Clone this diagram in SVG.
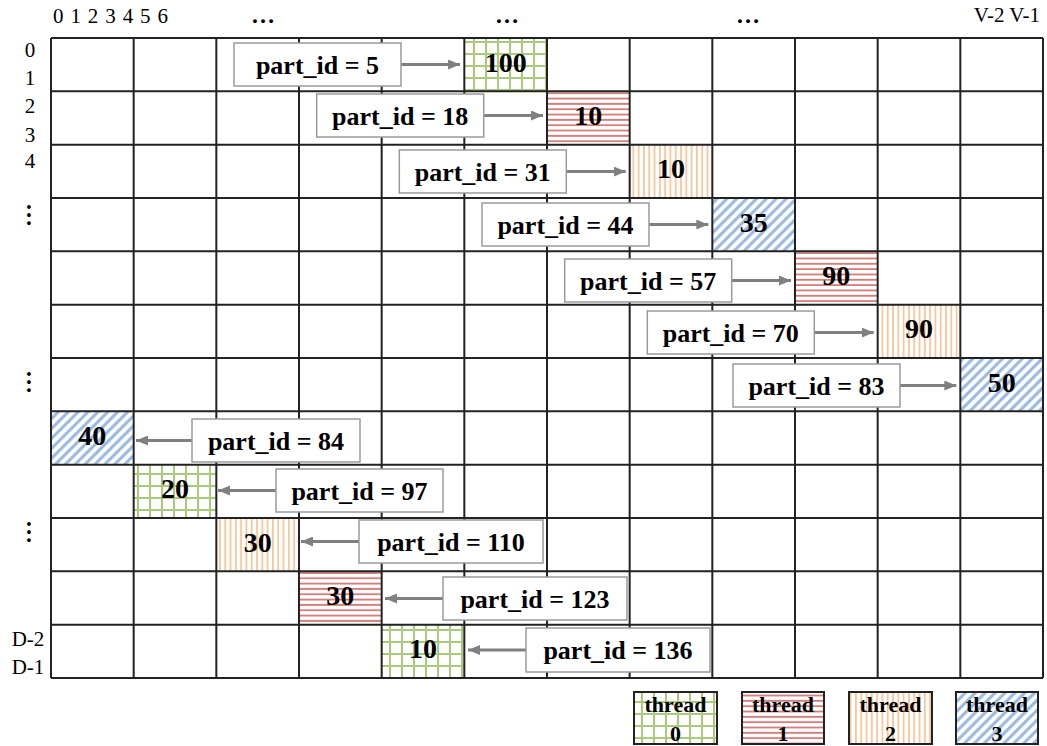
<svg xmlns="http://www.w3.org/2000/svg" width="1047" height="746" viewBox="0 0 1047 746">
<defs>
<style>
.ax{font-family:"Liberation Serif","Times New Roman",serif;font-size:21px;fill:#000}
.dots{font-family:"Liberation Serif","Times New Roman",serif;font-size:24px;font-weight:bold;fill:#000}
.lbl{font-family:"Liberation Serif","Times New Roman",serif;font-size:26px;font-weight:bold;fill:#000;text-anchor:middle}
.num{font-family:"Liberation Serif","Times New Roman",serif;font-size:28px;font-weight:bold;fill:#000;text-anchor:middle}
.leg{font-family:"Liberation Serif","Times New Roman",serif;font-size:22px;font-weight:bold;fill:#000;text-anchor:middle}
.box{fill:#fff;stroke:#9a9a9a;stroke-width:1.5}
.grid{stroke:#222;stroke-width:2;fill:none}
.arr{stroke:#808080;stroke-width:3;fill:none;marker-end:url(#ah)}
.legbox{stroke:#222;stroke-width:2}
</style>
<marker id="ah" markerUnits="userSpaceOnUse" markerWidth="12" markerHeight="10" refX="12" refY="5" orient="auto">
<path d="M0,0 L12,5 L0,10 Z" fill="#808080"/>
</marker>
<pattern id="pGreen" patternUnits="userSpaceOnUse" width="12" height="12">
<rect width="12" height="12" fill="#fff"/>
<path d="M6,0 V12 M0,6 H12" stroke="#a9c97c" stroke-width="2"/>
</pattern>
<pattern id="pRed" patternUnits="userSpaceOnUse" width="10" height="5.33">
<rect width="10" height="5.33" fill="#fff"/>
<path d="M0,2.6 H10" stroke="#d27f7d" stroke-width="1.9"/>
</pattern>
<pattern id="pOrange" patternUnits="userSpaceOnUse" width="5.3" height="10">
<rect width="5.3" height="10" fill="#fff"/>
<path d="M2.6,0 V10" stroke="#f9c59c" stroke-width="1.8"/>
</pattern>
<pattern id="pBlue" patternUnits="userSpaceOnUse" width="10" height="7" patternTransform="rotate(-45)">
<rect width="10" height="7" fill="#fff"/>
<path d="M0,3.5 H10" stroke="#9dbbe0" stroke-width="3.2"/>
</pattern>
</defs>

<g id="axis-labels">
<text class="ax" x="53" y="23" textLength="115" lengthAdjust="spacing">0 1 2 3 4 5 6</text>
<text class="dots" x="251" y="23">…</text>
<text class="dots" x="495" y="23">…</text>
<text class="dots" x="736" y="23">…</text>
<text class="ax" x="1040" y="22" text-anchor="end">V-2 V-1</text>
<text class="ax" x="30" y="57" text-anchor="middle">0</text>
<text class="ax" x="30" y="85" text-anchor="middle">1</text>
<text class="ax" x="30" y="113" text-anchor="middle">2</text>
<text class="ax" x="30" y="142" text-anchor="middle">3</text>
<text class="ax" x="30" y="168" text-anchor="middle">4</text>
<text class="dots" transform="translate(27,203) rotate(90)">…</text>
<text class="dots" transform="translate(27,370) rotate(90)">…</text>
<text class="dots" transform="translate(27,520) rotate(90)">…</text>
<text class="ax" x="28" y="646" text-anchor="middle">D-2</text>
<text class="ax" x="28" y="674" text-anchor="middle">D-1</text>
</g>

<g id="cells">
<rect x="464.33" y="38" width="82.67" height="53.33" fill="url(#pGreen)"/>
<rect x="547" y="91.33" width="82.67" height="53.33" fill="url(#pRed)"/>
<rect x="629.67" y="144.67" width="82.67" height="53.33" fill="url(#pOrange)"/>
<rect x="712.33" y="198" width="82.67" height="53.33" fill="url(#pBlue)"/>
<rect x="795" y="251.33" width="82.67" height="53.33" fill="url(#pRed)"/>
<rect x="877.67" y="304.67" width="82.67" height="53.33" fill="url(#pOrange)"/>
<rect x="960.33" y="358" width="82.67" height="53.33" fill="url(#pBlue)"/>
<rect x="51" y="411.33" width="82.67" height="53.33" fill="url(#pBlue)"/>
<rect x="133.67" y="464.67" width="82.67" height="53.33" fill="url(#pGreen)"/>
<rect x="216.33" y="518" width="82.67" height="53.33" fill="url(#pOrange)"/>
<rect x="299" y="571.33" width="82.67" height="53.33" fill="url(#pRed)"/>
<rect x="381.67" y="624.67" width="82.67" height="53.33" fill="url(#pGreen)"/>
</g>

<g id="grid">
<path class="grid" d="M51,38 H1043 M51,91.33 H1043 M51,144.67 H1043 M51,198 H1043 M51,251.33 H1043 M51,304.67 H1043 M51,358 H1043 M51,411.33 H1043 M51,464.67 H1043 M51,518 H1043 M51,571.33 H1043 M51,624.67 H1043 M51,678 H1043"/>
<path class="grid" d="M51,38 V678 M133.67,38 V678 M216.33,38 V678 M299,38 V678 M381.67,38 V678 M464.33,38 V678 M547,38 V678 M629.67,38 V678 M712.33,38 V678 M795,38 V678 M877.67,38 V678 M960.33,38 V678 M1043,38 V678"/>
</g>

<g id="cell-values">
<text class="num" x="505.67" y="72">100</text>
<text class="num" x="588.33" y="125">10</text>
<text class="num" x="671" y="178">10</text>
<text class="num" x="753.67" y="232">35</text>
<text class="num" x="836.33" y="285">90</text>
<text class="num" x="919" y="338">90</text>
<text class="num" x="1001.67" y="392">50</text>
<text class="num" x="92.33" y="445">40</text>
<text class="num" x="175" y="498">20</text>
<text class="num" x="257.67" y="552">30</text>
<text class="num" x="340.33" y="605">30</text>
<text class="num" x="423" y="658">10</text>
</g>

<g id="connectors">
<path class="arr" d="M401,64.5 H460"/>
<path class="arr" d="M483.7,115.5 H543"/>
<path class="arr" d="M566.3,171.5 H625.7"/>
<path class="arr" d="M649,224.5 H708.3"/>
<path class="arr" d="M731.7,280.5 H791"/>
<path class="arr" d="M814.3,332.5 H873.7"/>
<path class="arr" d="M898,385.5 H956.3"/>
<path class="arr" d="M192,440.5 H136"/>
<path class="arr" d="M276,490.5 H218"/>
<path class="arr" d="M359,541.5 H301"/>
<path class="arr" d="M443,598.5 H385"/>
<path class="arr" d="M526,650 H468"/>
</g>

<g id="label-5"><rect class="box" x="234" y="43" width="167" height="43"/><text class="lbl" x="317.5" y="74">part_id = 5</text></g>
<g id="label-18"><rect class="box" x="316.7" y="94" width="167" height="43"/><text class="lbl" x="400.2" y="125">part_id = 18</text></g>
<g id="label-31"><rect class="box" x="399.3" y="150" width="167" height="43"/><text class="lbl" x="482.8" y="181">part_id = 31</text></g>
<g id="label-44"><rect class="box" x="482" y="203" width="167" height="43"/><text class="lbl" x="565.5" y="234">part_id = 44</text></g>
<g id="label-57"><rect class="box" x="564.7" y="259" width="167" height="43"/><text class="lbl" x="648.2" y="290">part_id = 57</text></g>
<g id="label-70"><rect class="box" x="647.3" y="311" width="167" height="43"/><text class="lbl" x="730.8" y="342">part_id = 70</text></g>
<g id="label-83"><rect class="box" x="733" y="364" width="167" height="43"/><text class="lbl" x="816.5" y="395">part_id = 83</text></g>
<g id="label-84"><rect class="box" x="192" y="419" width="168" height="43"/><text class="lbl" x="276" y="450">part_id = 84</text></g>
<g id="label-97"><rect class="box" x="276" y="469" width="167" height="43"/><text class="lbl" x="359.5" y="500">part_id = 97</text></g>
<g id="label-110"><rect class="box" x="359" y="520" width="184" height="43"/><text class="lbl" x="451" y="551">part_id = 110</text></g>
<g id="label-123"><rect class="box" x="443" y="577" width="184" height="43"/><text class="lbl" x="535" y="608">part_id = 123</text></g>
<g id="label-136"><rect class="box" x="526" y="628" width="184" height="44"/><text class="lbl" x="618" y="659">part_id = 136</text></g>

<g id="legend-0"><rect class="legbox" x="634" y="692" width="83" height="52" fill="url(#pGreen)"/><text class="leg" x="675.5" y="712">thread</text><text class="leg" x="675.5" y="741">0</text></g>
<g id="legend-1"><rect class="legbox" x="742" y="692" width="82" height="52" fill="url(#pRed)"/><text class="leg" x="783" y="712">thread</text><text class="leg" x="783" y="741">1</text></g>
<g id="legend-2"><rect class="legbox" x="849" y="692" width="83" height="52" fill="url(#pOrange)"/><text class="leg" x="890.5" y="712">thread</text><text class="leg" x="890.5" y="741">2</text></g>
<g id="legend-3"><rect class="legbox" x="956" y="692" width="82" height="52" fill="url(#pBlue)"/><text class="leg" x="997" y="712">thread</text><text class="leg" x="997" y="741">3</text></g>
</svg>
